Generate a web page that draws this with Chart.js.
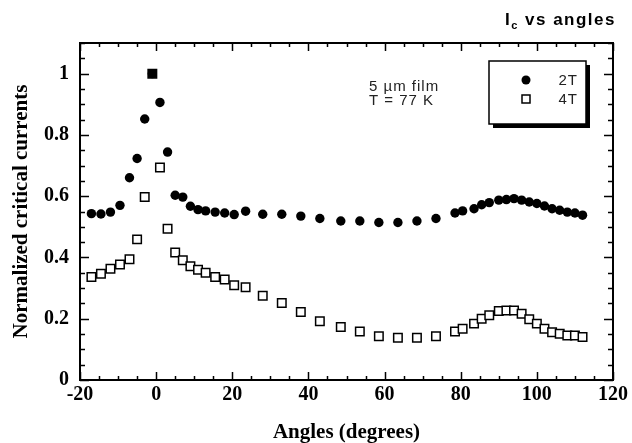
<!DOCTYPE html>
<html>
<head>
<meta charset="utf-8">
<script src="https://cdn.jsdelivr.net/npm/chart.js@4/dist/chart.umd.min.js"></script>
<style>
html,body{margin:0;padding:0;background:#fff;}
canvas{display:block;}
</style>
</head>
<body>
<canvas id="c" width="632" height="443"></canvas>
<script>
// ---- data ----
const angles = [-17, -14.5, -12, -9.5, -7, -5, -3, -1, 1, 3, 5, 7, 9, 11, 13, 15.5, 18, 20.5, 23.5, 28, 33, 38, 43, 48.5, 53.5, 58.5, 63.5, 68.5, 73.5, 78.5, 80.5, 83.5, 85.5, 87.5, 90, 92, 94, 96, 98, 100, 102, 104, 106, 108, 110, 112];
const ic2T = [0.543, 0.542, 0.548, 0.570, 0.660, 0.723, 0.852, 1.0, 0.906, 0.744, 0.603, 0.597, 0.567, 0.556, 0.552, 0.548, 0.545, 0.540, 0.551, 0.541, 0.541, 0.535, 0.527, 0.519, 0.519, 0.514, 0.514, 0.519, 0.527, 0.545, 0.552, 0.559, 0.572, 0.579, 0.587, 0.589, 0.592, 0.587, 0.581, 0.576, 0.568, 0.559, 0.554, 0.548, 0.545, 0.538];
const ic4T = [0.336, 0.347, 0.363, 0.377, 0.394, 0.459, 0.597, 1.0, 0.694, 0.494, 0.416, 0.391, 0.371, 0.360, 0.350, 0.336, 0.328, 0.309, 0.303, 0.275, 0.251, 0.222, 0.192, 0.173, 0.158, 0.143, 0.138, 0.138, 0.143, 0.158, 0.167, 0.184, 0.200, 0.211, 0.225, 0.227, 0.227, 0.216, 0.198, 0.184, 0.167, 0.156, 0.151, 0.145, 0.145, 0.140];
const seriesLabels = ['2T', '4T'];
const xTickValues = [-20, 0, 20, 40, 60, 80, 100, 120];
const yTickValues = [0, 0.2, 0.4, 0.6, 0.8, 1];
const titleMain = 'I';
const titleSub = 'c';
const titleRest = ' vs angles';
const noteLines = ['5 \u00B5m film', 'T = 77 K'];
const xTitle = 'Angles (degrees)';
const yTitle = 'Normalized critical currents';

const pts = (ys) => angles.map((a, i) => ({x: a, y: ys[i]}));

const serif = '"Liberation Serif", "Times New Roman", serif';
const sans = '"Liberation Sans", Arial, sans-serif';

const decor = {
  id: 'decor',
  afterDraw(chart) {
    const ctx = chart.ctx;
    const xs = chart.scales.x, ys = chart.scales.y;
    const a = chart.chartArea;
    ctx.save();
    // frame
    ctx.strokeStyle = '#000';
    ctx.lineWidth = 2;
    ctx.strokeRect(a.left, a.top, a.right - a.left, a.bottom - a.top);
    // inward ticks
    ctx.lineWidth = 1.5;
    ctx.beginPath();
    for (let v = -20; v <= 120.001; v += 5) {
      const px = Math.round(xs.getPixelForValue(v)) + 0.5;
      const len = (Math.abs(v % 20) < 1e-6) ? 8 : 4;
      ctx.moveTo(px, a.bottom); ctx.lineTo(px, a.bottom - len);
      ctx.moveTo(px, a.top); ctx.lineTo(px, a.top + len);
    }
    for (let k = 0; k <= 22; k++) {
      const v = k * 0.05;
      const py = Math.round(ys.getPixelForValue(v)) + 0.5;
      const len = (k % 4 === 0) ? 9 : 5;
      ctx.moveTo(a.left, py); ctx.lineTo(a.left + len, py);
      ctx.moveTo(a.right, py); ctx.lineTo(a.right - len, py);
    }
    ctx.stroke();

    // title "Ic vs angles"
    ctx.fillStyle = '#000';
    ctx.textBaseline = 'alphabetic';
    ctx.textAlign = 'left';
    ctx.letterSpacing = '1.5px';
    const fMain = 'bold 17px ' + sans, fSub = 'bold 11px ' + sans;
    ctx.font = fMain; const w1 = ctx.measureText(titleMain).width; const w3 = ctx.measureText(titleRest).width;
    ctx.font = fSub; const w2 = ctx.measureText(titleSub).width;
    let tx = 616 - (w1 + w2 + w3);
    const ty = 25;
    ctx.font = fMain; ctx.fillText(titleMain, tx, ty); tx += w1;
    ctx.font = fSub; ctx.fillText(titleSub, tx, ty + 4); tx += w2;
    ctx.font = fMain; ctx.fillText(titleRest, tx, ty);

    // note
    ctx.letterSpacing = '1px';
    ctx.font = '15px ' + sans;
    ctx.fillStyle = '#222';
    ctx.fillText(noteLines[0], 369, 91);
    ctx.fillText(noteLines[1], 369, 105);

    // legend box with shadow
    ctx.letterSpacing = '0px';
    const lx = 489, ly = 61, lw = 97, lh = 63;
    ctx.fillStyle = '#000';
    ctx.fillRect(lx + 4, ly + 4, lw, lh);
    ctx.fillStyle = '#fff';
    ctx.fillRect(lx, ly, lw, lh);
    ctx.strokeStyle = '#000';
    ctx.lineWidth = 1.5;
    ctx.strokeRect(lx, ly, lw, lh);
    const ds = chart.data.datasets;
    const rows = [80, 99];
    ctx.font = '15px ' + sans;
    ctx.textAlign = 'right';
    ctx.textBaseline = 'middle';
    ds.forEach((d, i) => {
      const cy = rows[i], cx = 526;
      if (d.pointStyle === 'circle') {
        ctx.fillStyle = '#000';
        ctx.beginPath(); ctx.arc(cx, cy, 4.5, 0, Math.PI * 2); ctx.fill();
      } else {
        ctx.fillStyle = '#fff'; ctx.strokeStyle = '#000'; ctx.lineWidth = 1.5;
        ctx.fillRect(cx - 4, cy - 4, 8, 8);
        ctx.strokeRect(cx - 4, cy - 4, 8, 8);
      }
      ctx.fillStyle = '#222';
      ctx.letterSpacing = '1px';
      ctx.fillText(d.label, 578, cy + 1);
      ctx.letterSpacing = '0px';
    });
    ctx.restore();
  }
};

new Chart(document.getElementById('c'), {
  type: 'scatter',
  data: {
    datasets: [
      {
        label: seriesLabels[0],
        data: pts(ic2T),
        pointStyle: 'circle',
        pointRadius: 4.7,
        pointHoverRadius: 4.7,
        backgroundColor: '#000',
        borderColor: '#000',
        borderWidth: 0,
        order: 1
      },
      {
        label: seriesLabels[1],
        data: pts(ic4T),
        pointStyle: 'rect',
        pointRadius: 6,
        pointHoverRadius: 6,
        backgroundColor: ic4T.map(v => v >= 1 ? '#000' : '#fff'),
        borderColor: '#000',
        borderWidth: 1.5,
        order: 0
      }
    ]
  },
  options: {
    responsive: false,
    animation: false,
    devicePixelRatio: 1,
    layout: { padding: { left: 0, right: 19, top: 43, bottom: 0 } },
    plugins: { legend: { display: false }, tooltip: { enabled: false }, title: { display: false } },
    scales: {
      x: {
        type: 'linear',
        min: -20, max: 120,
        afterFit: s => { s.height = 63; },
        afterBuildTicks: s => { s.ticks = xTickValues.map(v => ({value: v})); },
        grid: { display: false, drawTicks: false },
        border: { display: false },
        ticks: { color: '#000', font: { family: serif, size: 20, weight: 'bold' }, padding: 3, maxRotation: 0, callback: v => String(v) },
        title: { display: true, text: xTitle, color: '#000', font: { family: serif, size: 21, weight: 'bold', lineHeight: 1.0 }, padding: { top: 0, bottom: 0 } }
      },
      y: {
        type: 'linear',
        min: 0, max: 1.1,
        afterFit: s => { s.width = 80; },
        afterBuildTicks: s => { s.ticks = yTickValues.map(v => ({value: v})); },
        grid: { display: false, drawTicks: false },
        border: { display: false },
        ticks: { color: '#000', font: { family: serif, size: 20, weight: 'bold' }, padding: 11, callback: v => String(Math.round(v * 10) / 10) },
        title: { display: true, text: yTitle, color: '#000', font: { family: serif, size: 21, weight: 'bold' }, padding: { top: 9, bottom: 0 } }
      }
    }
  },
  plugins: [decor]
});
</script>
</body>
</html>
